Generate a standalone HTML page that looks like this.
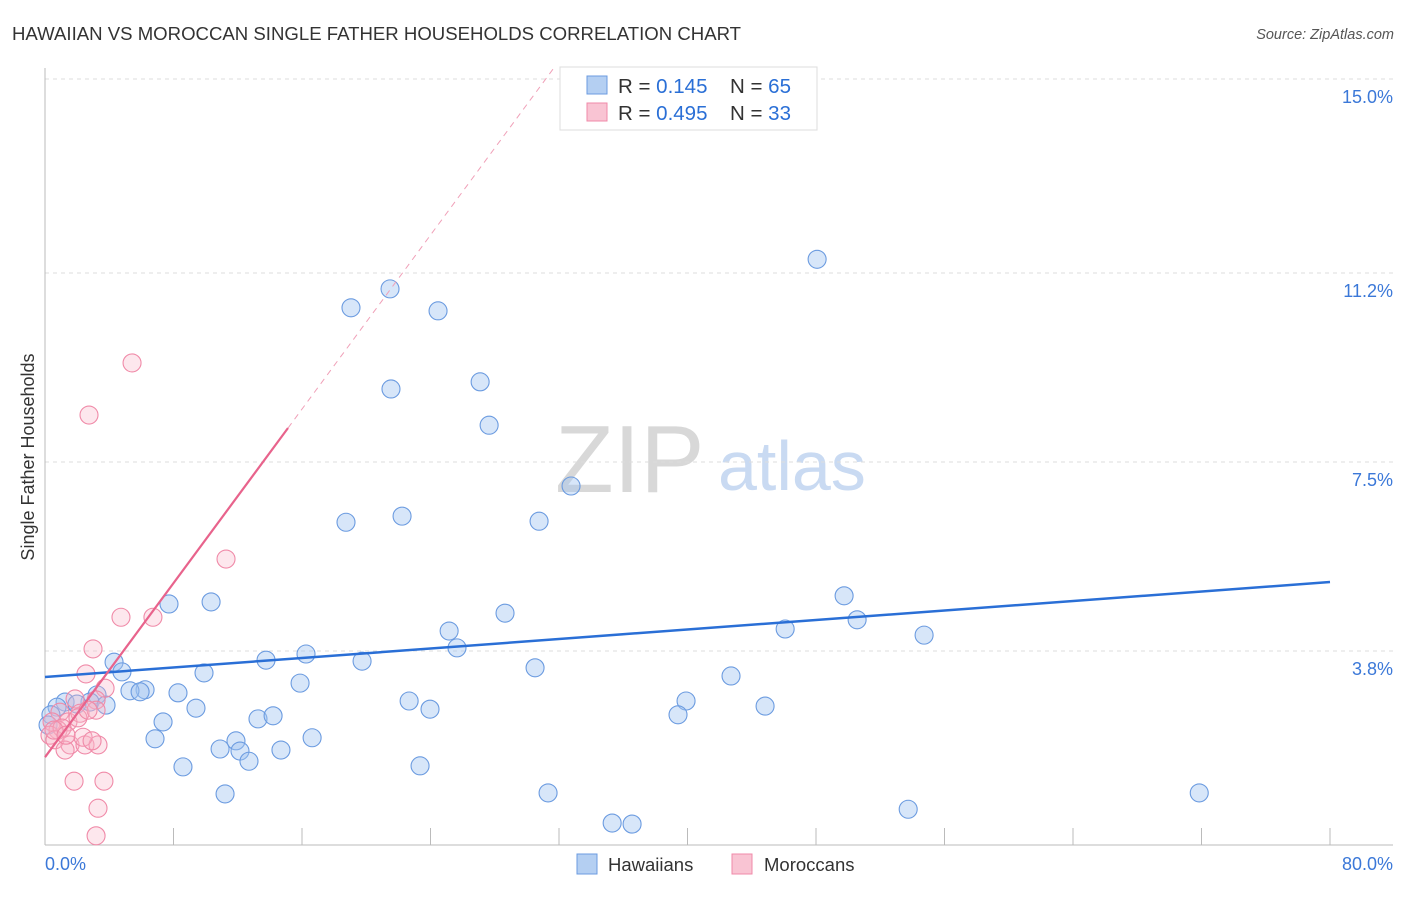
<!DOCTYPE html>
<html><head><meta charset="utf-8"><style>
body{margin:0;background:#fff;font-family:"Liberation Sans",sans-serif}
svg text{font-family:"Liberation Sans",sans-serif}
</style></head><body>
<svg id="c" width="1406" height="892" xmlns="http://www.w3.org/2000/svg">
<text x="12" y="40" font-size="18.6" fill="#333">HAWAIIAN VS MOROCCAN SINGLE FATHER HOUSEHOLDS CORRELATION CHART</text>
<text x="1394" y="39" font-size="14.5" fill="#555" font-style="italic" text-anchor="end">Source: ZipAtlas.com</text>
<g>
<text x="555" y="492" font-size="96" fill="#d8d8d8" font-family="Liberation Serif">ZIP</text>
<text x="718" y="490" font-size="70" fill="#c9daf2">atlas</text>
</g>
<g id="grid"></g><g id="axes"></g><g id="marks"></g>
<text transform="translate(34,457) rotate(-90)" font-size="18" fill="#333" text-anchor="middle">Single Father Households</text>
<g>
<rect x="560" y="67" width="257" height="63" fill="#fff" stroke="#ddd"/>
<rect x="587" y="76" width="20" height="18" fill="#b4cff2" stroke="#6b9be0"/>
<rect x="587" y="103" width="20" height="18" fill="#f9c4d3" stroke="#f08aa8"/>
<text x="618" y="93" font-size="20.5" fill="#333">R = <tspan fill="#2a6fd6"> 0.145</tspan><tspan x="730">N = </tspan><tspan fill="#2a6fd6">65</tspan></text>
<text x="618" y="120" font-size="20.5" fill="#333">R = <tspan fill="#2a6fd6">0.495</tspan><tspan x="730">N = </tspan><tspan fill="#2a6fd6">33</tspan></text>
</g>
<g>
<rect x="577" y="854" width="20" height="20" fill="#b4cff2" stroke="#6b9be0"/>
<text x="608" y="871" font-size="18.5" fill="#333">Hawaiians</text>
<rect x="732" y="854" width="20" height="20" fill="#f9c4d3" stroke="#f08aa8"/>
<text x="764" y="871" font-size="18.5" fill="#333">Moroccans</text>
</g>
</svg>
<script>
const yTicks=[3.8,7.5,11.2,15.0];
const yTickLabels=["3.8%","7.5%","11.2%","15.0%"];
const xTickLabels=["0.0%","80.0%"];
const hawX=[48.07,21.48,19.05,24.47,21.54,27.09,27.65,32.75,18.74,22.23,30.76,7.72,10.34,28.64,25.16,25.65,49.75,50.56,46.08,54.73,4.30,4.79,13.76,16.25,19.74,9.90,30.51,42.71,15.88,6.23,5.29,5.92,8.28,3.24,2.80,1.25,0.75,1.99,3.80,9.40,22.67,23.97,39.91,44.83,7.35,13.26,14.20,39.41,6.85,11.89,10.90,12.14,14.69,16.63,12.70,8.59,23.35,11.21,31.32,71.86,35.31,36.55,53.74,0.37,0.19];
const hawY=[11.47,10.89,10.52,10.46,8.93,9.07,8.22,7.03,6.32,6.44,6.34,4.72,4.76,4.54,4.19,3.86,4.88,4.41,4.23,4.11,3.58,3.39,3.62,3.74,3.60,3.37,3.47,3.31,3.17,3.04,3.02,3.00,2.98,2.94,2.80,2.80,2.70,2.76,2.74,2.68,2.82,2.66,2.82,2.72,2.41,2.47,2.53,2.55,2.08,2.04,1.88,1.84,1.86,2.10,1.64,1.53,1.55,1.00,1.02,1.02,0.43,0.41,0.70,2.55,2.35];
const morX=[5.42,2.74,11.27,4.73,6.72,2.99,2.55,3.74,3.18,1.87,0.93,1.43,0.44,0.81,0.31,1.06,2.18,3.18,0.62,1.56,2.49,3.30,1.25,2.37,2.93,1.81,3.67,3.30,3.18,2.05,0.56,1.31,2.68];
const morY=[9.44,8.42,5.60,4.46,4.46,3.84,3.35,3.07,2.84,2.86,2.60,2.41,2.41,2.25,2.15,2.29,2.58,2.64,2.06,1.96,1.96,1.96,1.86,2.11,2.04,1.25,1.25,0.72,0.18,2.49,2.25,2.15,2.64];
const hawTrend=[3.29,5.15]; // y at x=0, x=80
const morTrend=[1.72,0.426]; // intercept, slope
const morSolidEnd=15.13;

const X0=45,X1=1330,Y0=845,YTOP=79;
const sx=v=>X0+(v/80)*(X1-X0);
const sy=v=>Y0-(v/15)*(Y0-YTOP);
const NS="http://www.w3.org/2000/svg";
function mk(tag,attrs,parent){const e=document.createElementNS(NS,tag);for(const k in attrs)e.setAttribute(k,attrs[k]);parent.appendChild(e);return e;}
const grid=document.getElementById('grid'),axes=document.getElementById('axes'),marks=document.getElementById('marks');
yTicks.forEach((t,i)=>{
  const l=mk('line',{x1:X0,x2:1393,y1:sy(t),y2:sy(t),stroke:'#ddd','stroke-dasharray':'4,4'},grid);
  
  
  const tx=mk('text',{x:1393,y:sy(t)+24,'font-size':18,fill:'#3b78d8','text-anchor':'end'},axes);
  tx.textContent=yTickLabels[i];
  
  
});
const al=mk('line',{x1:X0,x2:X0,y1:68,y2:Y0,stroke:'#bbb'},axes);


const bl=mk('line',{x1:X0,x2:1393,y1:Y0,y2:Y0,stroke:'#bbb'},axes);


for(let i=0;i<=10;i++){
  const v=i*8;
  const t=mk('line',{x1:sx(v),x2:sx(v),y1:828,y2:Y0,stroke:'#bbb'},axes);
  
  
}
const xl0=mk('text',{x:45,y:870,'font-size':18,fill:'#3b78d8'},axes);xl0.textContent=xTickLabels[0];


const xl1=mk('text',{x:1393,y:870,'font-size':18,fill:'#3b78d8','text-anchor':'end'},axes);xl1.textContent=xTickLabels[1];



hawX.forEach((x,i)=>{
  const c=mk('circle',{cx:sx(x),cy:sy(hawY[i]),r:9,fill:'rgba(160,196,240,0.42)',stroke:'#6b9be0','stroke-width':1.1},marks);
  
  
});
morX.forEach((x,i)=>{
  const c=mk('circle',{cx:sx(x),cy:sy(morY[i]),r:9,fill:'rgba(248,180,200,0.32)',stroke:'#f08aa8','stroke-width':1.1},marks);
  
  
});
const ht=mk('line',{x1:sx(0),y1:sy(hawTrend[0]),x2:sx(80),y2:sy(hawTrend[1]),stroke:'#2a6fd6','stroke-width':2.5},marks);


const mt=mk('line',{x1:sx(0),y1:sy(morTrend[0]),x2:sx(morSolidEnd),y2:sy(morTrend[0]+morTrend[1]*morSolidEnd),stroke:'#e8638c','stroke-width':2.2},marks);


const xEnd=(15.2-morTrend[0])/morTrend[1];
const md=mk('line',{x1:sx(morSolidEnd),y1:sy(morTrend[0]+morTrend[1]*morSolidEnd),x2:sx(xEnd),y2:sy(15.2),stroke:'#f0a0b8','stroke-width':1,'stroke-dasharray':'6,5'},marks);


</script>
</body></html>
